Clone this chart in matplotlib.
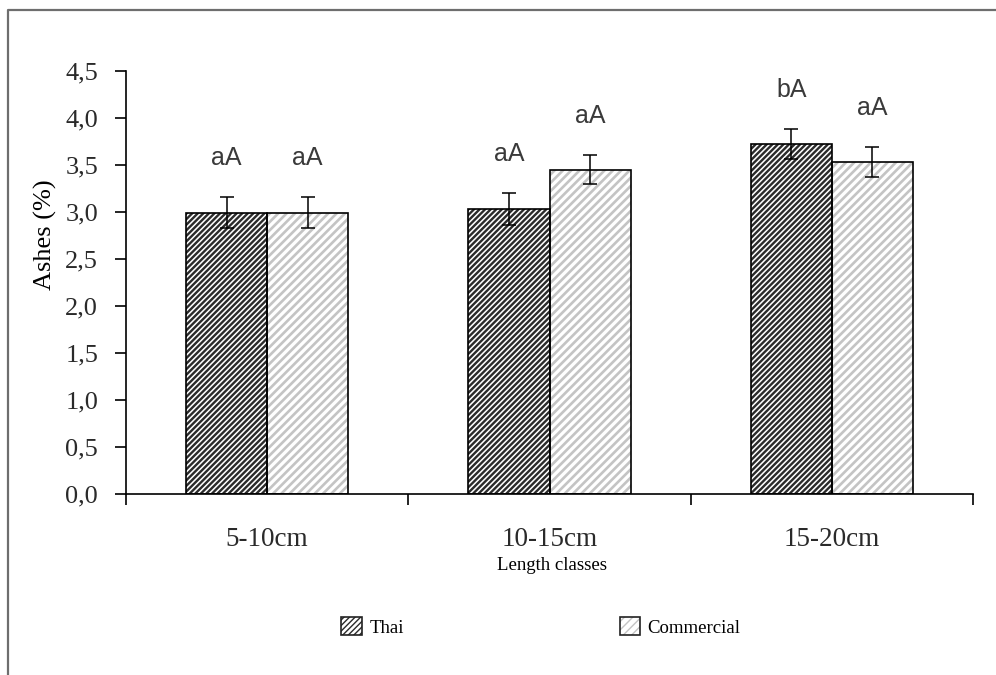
import matplotlib
matplotlib.use("Agg")
import matplotlib.pyplot as plt
import numpy as np
from matplotlib.patches import Patch
from matplotlib.lines import Line2D
from matplotlib.legend_handler import HandlerTuple

categories = ["5-10cm", "10-15cm", "15-20cm"]
series_names = ["Thai", "Commercial"]
thai = [2.99, 3.03, 3.72]
commercial = [2.99, 3.45, 3.53]
thai_err = [0.165, 0.17, 0.16]
commercial_err = [0.165, 0.155, 0.16]
thai_letters = ["aA", "aA", "bA"]
commercial_letters = ["aA", "aA", "aA"]
yticks = [0.0, 0.5, 1.0, 1.5, 2.0, 2.5, 3.0, 3.5, 4.0, 4.5]
ytick_labels = ["0,0", "0,5", "1,0", "1,5", "2,0", "2,5", "3,0", "3,5", "4,0", "4,5"]

serif = ["Liberation Serif", "DejaVu Serif"]
sans = ["Liberation Sans", "DejaVu Sans"]

fig = plt.figure(figsize=(9.96, 6.75), dpi=100)
ax = fig.add_axes([126/996, 1-494/675, (973-126)/996, (494-71)/675])

x = np.arange(len(categories))
w = 0.287
specs = [
    (thai, thai_err, thai_letters, -w/2, "//////", "#2b2b2b", 1.7),
    (commercial, commercial_err, commercial_letters, w/2, "////", "#c4c4c4", 1.9),
]
handles = []
for vals, errs, letters, off, hatch, hcol, hlw in specs:
    with plt.rc_context({"hatch.linewidth": hlw}):
        ax.bar(x + off, vals, width=w, color="white", edgecolor=hcol,
               hatch=hatch, linewidth=0, zorder=2)
        hp = Patch(facecolor="white", edgecolor=hcol, hatch=hatch, linewidth=0)
    ax.bar(x + off, vals, width=w, fill=False, edgecolor="black",
           linewidth=1.2, zorder=3)
    op = Patch(facecolor="none", edgecolor="#222222", linewidth=1.2)
    handles.append((hp, op))
    ax.errorbar(x + off, vals, yerr=errs, fmt="none", ecolor="black",
                elinewidth=1.1, capsize=5, capthick=1.1, zorder=4)
    for xi, v, e, lab in zip(x + off, vals, errs, letters):
        ax.text(xi, v + e + 0.42, lab, ha="center", va="center",
                fontsize=18, family=sans, color="#3a3a3a")

ax.set_xlim(-0.5, 2.5)
ax.set_ylim(0, 4.5)
ax.set_yticks(yticks)
ax.set_yticklabels(ytick_labels, family=serif, fontsize=19, color="#2a2a2a")
ax.set_xticks(x)
ax.set_xticklabels(categories, family=serif, fontsize=19.5, color="#2a2a2a")
ax.tick_params(axis="x", which="major", length=0, pad=24)
ax.set_xticks([-0.5, 0.5, 1.5, 2.5], minor=True)
ax.tick_params(axis="x", which="minor", length=8, width=1.2, direction="out")
ax.tick_params(axis="y", length=8, width=1.2, direction="out", pad=12)
for s in ["top", "right"]:
    ax.spines[s].set_visible(False)
for s in ["left", "bottom"]:
    ax.spines[s].set_linewidth(1.2)

fig.text(45/996, 1-235/675, "Ashes (%)", rotation=90, ha="center", va="center",
         family=serif, fontsize=19, color="black")
fig.text(552/996, 1-565/675, "Length classes", ha="center", va="center",
         family=serif, fontsize=13.5, color="black")

leg = fig.legend(handles, series_names, loc="center", bbox_to_anchor=(541/996, 1-627/675),
                 ncol=2, frameon=False, handler_map={tuple: HandlerTuple(ndivide=1)},
                 handlelength=1.1, handleheight=1.1, handletextpad=0.4,
                 columnspacing=11.5, prop={"family": serif, "size": 13.5})

# outer frame (cut on right and bottom)
yt = 1 - 9.5/675
xl = 8/996
fig.add_artist(Line2D([xl, xl, 1], [0, yt, yt], transform=fig.transFigure,
                      color="#6e6e6e", linewidth=1.6))

fig.savefig("out.png", dpi=100)
